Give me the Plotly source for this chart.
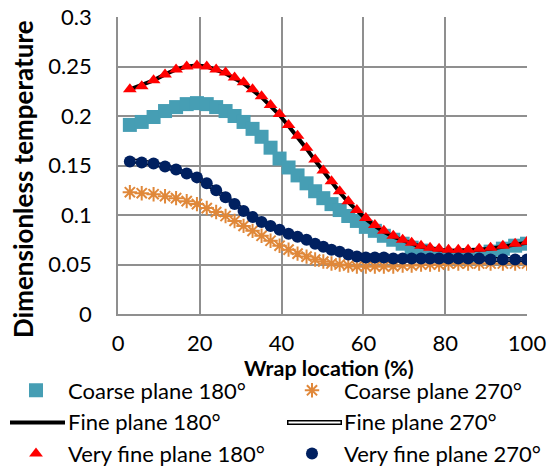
import plotly.graph_objects as go

# ---------------- data ----------------
wrap_loc = [2.9, 5.8, 8.7, 11.5, 14.2, 16.8, 19.3, 21.7, 24.0, 26.3, 28.5, 30.7, 32.9, 35.1,
            37.3, 39.5, 41.7, 43.9, 46.1, 48.2, 50.2, 52.2, 54.2, 56.3, 58.4, 60.6, 62.8, 65.0,
            67.3, 69.6, 71.8, 74.1, 76.3, 78.5, 80.8, 83.2, 85.6, 88.3, 91.1, 94.1, 97.1, 100.0]

coarse_180 = [0.191, 0.194, 0.199, 0.205, 0.209, 0.212, 0.213, 0.212, 0.209, 0.205, 0.200, 0.194,
              0.187, 0.179, 0.168, 0.157, 0.148, 0.140, 0.132, 0.124, 0.117, 0.111, 0.105, 0.099,
              0.094, 0.088, 0.084, 0.079, 0.075, 0.071, 0.067, 0.064, 0.061, 0.059, 0.058, 0.058,
              0.059, 0.060, 0.063, 0.066, 0.069, 0.071]

coarse_270 = [0.123, 0.122, 0.121, 0.119, 0.117, 0.114, 0.111, 0.107, 0.103, 0.099, 0.094, 0.089,
              0.084, 0.079, 0.074, 0.069, 0.065, 0.061, 0.058, 0.055, 0.053, 0.051, 0.050, 0.049,
              0.048, 0.048, 0.048, 0.048, 0.048, 0.049, 0.049, 0.050, 0.050, 0.050, 0.051, 0.051,
              0.051, 0.051, 0.051, 0.051, 0.051, 0.051]

fine_180 = [0.227, 0.231, 0.236, 0.242, 0.247, 0.250, 0.251, 0.250, 0.247, 0.243, 0.238, 0.233,
            0.226, 0.219, 0.210, 0.201, 0.190, 0.179, 0.167, 0.155, 0.144, 0.133, 0.123, 0.113,
            0.104, 0.096, 0.089, 0.083, 0.078, 0.074, 0.071, 0.068, 0.066, 0.065, 0.064, 0.064,
            0.064, 0.065, 0.066, 0.068, 0.070, 0.072]

fine_270 = [0.155, 0.154, 0.152, 0.149, 0.146, 0.142, 0.138, 0.132, 0.125, 0.118, 0.111, 0.104,
            0.098, 0.093, 0.089, 0.085, 0.081, 0.077, 0.074, 0.071, 0.068, 0.065, 0.063, 0.061,
            0.059, 0.058, 0.057, 0.057, 0.056, 0.056, 0.056, 0.056, 0.056, 0.056, 0.056, 0.056,
            0.056, 0.056, 0.055, 0.055, 0.055, 0.055]

vfine_180 = [0.227, 0.230, 0.236, 0.242, 0.247, 0.250, 0.251, 0.250, 0.247, 0.244, 0.239, 0.234,
             0.227, 0.220, 0.211, 0.202, 0.191, 0.180, 0.168, 0.156, 0.145, 0.134, 0.124, 0.114,
             0.105, 0.097, 0.090, 0.084, 0.079, 0.075, 0.072, 0.069, 0.067, 0.066, 0.065, 0.065,
             0.065, 0.066, 0.067, 0.069, 0.071, 0.073]

vfine_270 = [0.154, 0.153, 0.152, 0.149, 0.146, 0.142, 0.138, 0.132, 0.125, 0.118, 0.111, 0.104,
             0.098, 0.093, 0.089, 0.085, 0.081, 0.078, 0.075, 0.071, 0.068, 0.065, 0.063, 0.060,
             0.058, 0.057, 0.057, 0.057, 0.056, 0.056, 0.056, 0.056, 0.056, 0.056, 0.056, 0.056,
             0.056, 0.056, 0.055, 0.055, 0.055, 0.055]

x_ticks = [0, 20, 40, 60, 80, 100]
y_ticks = [0, 0.05, 0.1, 0.15, 0.2, 0.25, 0.3]

# ---------------- styling ----------------
FONT = "Lato"
FS = 22
GRID = "#8f8f8f"
TEAL = "#469EB4"
ORANGE = "#E0883A"
RED = "#FF0000"
NAVY = "#002060"

W, H = 552, 466
L, R, T, B = 118, 25, 17, 152
PW, PH = W - L - R, H - T - B


def px2x(px):
    return (px - L) / PW


def py2y(py):
    return 1 - (py - T) / PH


fig = go.Figure()

fig.add_trace(go.Scatter(x=wrap_loc, y=coarse_180, mode="markers", name="Coarse plane 180°",
                         marker=dict(symbol="square", size=14, color=TEAL), legend="legend"))
fig.add_trace(go.Scatter(x=wrap_loc, y=coarse_270, mode="markers", name="Coarse plane 270°",
                         marker=dict(symbol="asterisk-open", size=12, color=ORANGE,
                                     line=dict(color=ORANGE, width=2)), legend="legend2"))
fig.add_trace(go.Scatter(x=wrap_loc, y=fine_180, mode="lines", showlegend=False,
                         line=dict(color="black", width=4)))
# legend proxy (its symbol is drawn with a layout shape)
fig.add_trace(go.Scatter(x=[None], y=[None], mode="lines", name="Fine plane 180°",
                         line=dict(color="rgba(0,0,0,0)", width=2), legend="legend"))
# double line (black outline + white core)
fig.add_trace(go.Scatter(x=wrap_loc, y=fine_270, mode="lines", showlegend=False,
                         line=dict(color="black", width=5), hoverinfo="skip"))
fig.add_trace(go.Scatter(x=wrap_loc, y=fine_270, mode="lines", showlegend=False,
                         line=dict(color="white", width=2)))
fig.add_trace(go.Scatter(x=[None], y=[None], mode="lines", name="Fine plane 270°",
                         line=dict(color="rgba(0,0,0,0)", width=2), legend="legend2"))
fig.add_trace(go.Scatter(x=wrap_loc, y=vfine_180, mode="markers", name="Very fine plane 180°",
                         marker=dict(symbol="triangle-up", size=12, color=RED), legend="legend"))
fig.add_trace(go.Scatter(x=wrap_loc, y=vfine_270, mode="markers", name="Very fine plane 270°",
                         marker=dict(symbol="circle", size=12, color=NAVY), legend="legend2"))

axis_common = dict(showgrid=True, gridcolor=GRID, gridwidth=1.8, showline=True, linecolor=GRID,
                   linewidth=1.8, zeroline=False, ticks="", tickfont=dict(family=FONT, size=FS, color="black"))

fig.update_xaxes(range=[0, 100], tickvals=x_ticks, ticklabelstandoff=9, **axis_common)
fig.update_yaxes(range=[0, 0.3], tickvals=y_ticks, ticklabelstandoff=20, **axis_common)

legend_common = dict(orientation="v", font=dict(family=FONT, size=FS, color="black"),
                     bgcolor="rgba(0,0,0,0)", borderwidth=0, itemwidth=54,
                     xanchor="left", yanchor="top", tracegroupgap=0)

LEG_TOP = 369.5
LEG_ROW2_Y = 422.5
fig.update_layout(
    width=W, height=H,
    margin=dict(l=L, r=R, t=T, b=B, pad=0, autoexpand=False),
    paper_bgcolor="white", plot_bgcolor="white",
    font=dict(family=FONT, size=FS, color="black"),
    showlegend=True,
    legend=dict(x=px2x(4), y=py2y(LEG_TOP), **legend_common),
    legend2=dict(x=px2x(280), y=py2y(LEG_TOP), **legend_common),
    annotations=[
        dict(text="<b>Dimensionless temperature</b>", textangle=-90, xref="paper", yref="paper",
             x=px2x(23), y=py2y(179), xanchor="center", yanchor="middle", showarrow=False,
             font=dict(family=FONT, size=26, color="black")),
        dict(text="<b>Wrap location (%)</b>", xref="paper", yref="paper",
             x=px2x(329), y=py2y(367.5), xanchor="center", yanchor="middle", showarrow=False,
             borderpad=0, font=dict(family=FONT, size=21.5, color="black")),
    ],
    shapes=[
        dict(type="line", xref="paper", yref="paper", x0=px2x(10), x1=px2x(65),
             y0=py2y(LEG_ROW2_Y), y1=py2y(LEG_ROW2_Y), line=dict(color="black", width=4), layer="above"),
        dict(type="line", xref="paper", yref="paper", x0=px2x(287), x1=px2x(342),
             y0=py2y(LEG_ROW2_Y), y1=py2y(LEG_ROW2_Y), line=dict(color="black", width=5), layer="above"),
        dict(type="line", xref="paper", yref="paper", x0=px2x(288.5), x1=px2x(340.5),
             y0=py2y(LEG_ROW2_Y), y1=py2y(LEG_ROW2_Y), line=dict(color="white", width=2), layer="above"),
    ],
)

fig.write_html("out.html")
